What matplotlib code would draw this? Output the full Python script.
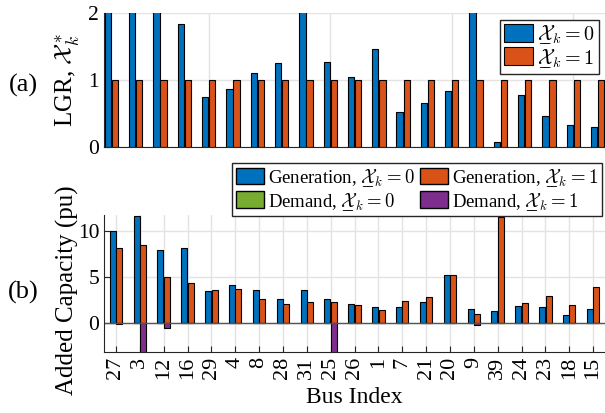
import numpy as np
from matplotlib import pyplot as plt
from matplotlib.patches import Patch
from matplotlib.mathtext import MathTextParser

plt.rcParams['font.family'] = ['Liberation Serif', 'DejaVu Serif']
plt.rcParams['mathtext.fontset'] = 'cm'
plt.rcParams['font.size'] = 14

buses = ['27', '3', '12', '16', '29', '4', '8', '28', '31', '25', '26',
         '1', '7', '21', '20', '9', '39', '24', '23', '18', '15']

# LGR values (clipped at 2 in the panel)
lgr_0 = [2.4, 2.9, 2.2, 1.83, 0.75, 0.87, 1.10, 1.25, 2.5, 1.27, 1.05,
         1.46, 0.53, 0.65, 0.84, 3.1, 0.08, 0.77, 0.46, 0.33, 0.30]
lgr_1 = [1.0] * 21

# added capacity (pu)
gen_0 = [10.0, 11.65, 7.93, 8.18, 3.45, 4.07, 3.56, 2.55, 3.56, 2.62, 2.04,
         1.75, 1.71, 2.29, 5.24, 1.49, 1.27, 1.78, 1.71, 0.84, 1.49]
gen_1 = [8.11, 8.44, 4.95, 4.29, 3.56, 3.64, 2.58, 2.04, 2.25, 2.25, 1.89,
         1.35, 2.40, 2.76, 5.24, 0.95, 11.56, 2.11, 2.87, 1.93, 3.85]
dem_0 = [0.0] * 21
dem_1 = [-0.1, -4.0, -0.55, 0, 0, 0, 0, 0, 0, -4.0, 0,
         0, 0, 0, 0, -0.25, 0, 0, 0, 0, 0]

blue = '#0072BD'
orange = '#D95319'
green = '#77AC30'
purple = '#7E2F8E'
axcol = '#262626'

# no \underline in mathtext, try a few substitutes
def pick_x():
    p = MathTextParser('agg')
    for cand in [r'\underset{\_\!\_}{\mathcal{X}}', r'\underset{-}{\mathcal{X}}', r'\mathcal{X}']:
        try:
            p.parse('$' + cand + '$', 100)
            return cand
        except Exception:
            pass
    return 'X'

ux = pick_x()
lbl0 = r'$%s_k = 0$' % ux
lbl1 = r'$%s_k = 1$' % ux

x = np.arange(1, len(buses) + 1)

fig = plt.figure(figsize=(6.05, 4.13), dpi=100)
ax1 = fig.add_axes([0.172, 0.644, 0.828, 0.3245])
ax2 = fig.add_axes([0.172, 0.148, 0.828, 0.331])

def style(ax):
    for s in ['top', 'right']:
        ax.spines[s].set_visible(False)
    for s in ['left', 'bottom']:
        ax.spines[s].set_color(axcol)
        ax.spines[s].set_linewidth(0.8)
    ax.tick_params(direction='in', length=4, colors=axcol, labelcolor='k',
                   width=0.8, labelsize=15.5)
    ax.grid(True, color='#e3e3e3', linewidth=1)
    ax.set_axisbelow(True)

# (a) LGR
style(ax1)
ax1.bar(x - 0.145, lgr_0, 0.26, color=blue, edgecolor='k', linewidth=0.8, label=lbl0)
ax1.bar(x + 0.145, lgr_1, 0.26, color=orange, edgecolor='k', linewidth=0.8, label=lbl1)
ax1.set_xlim(0.7, 21.3)
ax1.set_ylim(0, 2)
ax1.set_yticks([0, 1, 2])
ax1.set_xticks([5, 10, 15, 20])
ax1.set_xticklabels([])
ax1.set_ylabel(r'LGR, $\mathcal{X}_k^*$', fontsize=18)
ax1.yaxis.set_label_coords(-0.045, 0.5)
ax1.legend(loc='upper right', bbox_to_anchor=(0.988, 0.95), fontsize=14.5,
           handlelength=1.45, handleheight=1.0, handletextpad=0.2,
           borderpad=0.2, labelspacing=0.05, fancybox=False,
           edgecolor=axcol, framealpha=1, borderaxespad=0)

# (b) added capacity
style(ax2)
w = 0.25
ax2.axhline(0, color='#555555', linewidth=1, zorder=1.5)
ax2.bar(x - 0.135, gen_0, w, color=blue, edgecolor='k', linewidth=0.8)
ax2.bar(x + 0.135, gen_1, w, color=orange, edgecolor='k', linewidth=0.8)
ax2.bar(x - 0.135, dem_0, w, color=green, edgecolor='k', linewidth=0.8)
ax2.bar(x + 0.135, dem_1, w, color=purple, edgecolor='k', linewidth=0.8)
ax2.set_xlim(0.5, 21.5)
ax2.set_ylim(-3.2, 11.74)
ax2.set_yticks([0, 5, 10])
ax2.set_xticks(x)
ax2.set_xticklabels(buses, rotation=90, fontsize=16)
ax2.set_xlabel('Bus Index', fontsize=17, labelpad=6)
ax2.set_ylabel('Added Capacity (pu)', fontsize=18)
ax2.yaxis.set_label_coords(-0.05, 0.45)

handles = [Patch(facecolor=blue, edgecolor='k', label='Generation, ' + lbl0),
           Patch(facecolor=green, edgecolor='k', label='Demand, ' + lbl0),
           Patch(facecolor=orange, edgecolor='k', label='Generation, ' + lbl1),
           Patch(facecolor=purple, edgecolor='k', label='Demand, ' + lbl1)]
fig.legend(handles=handles, ncol=2, loc='upper right', bbox_to_anchor=(0.995, 0.605),
           fontsize=13.5, handlelength=1.5, handleheight=1.0, handletextpad=0.2,
           columnspacing=0.3, borderpad=0.2, labelspacing=0.1, fancybox=False,
           edgecolor=axcol, framealpha=1, borderaxespad=0)

fig.text(0.038, 0.794, '(a)', fontsize=19, ha='center', va='center')
fig.text(0.038, 0.293, '(b)', fontsize=19, ha='center', va='center')

fig.savefig('out.png', dpi=100)
